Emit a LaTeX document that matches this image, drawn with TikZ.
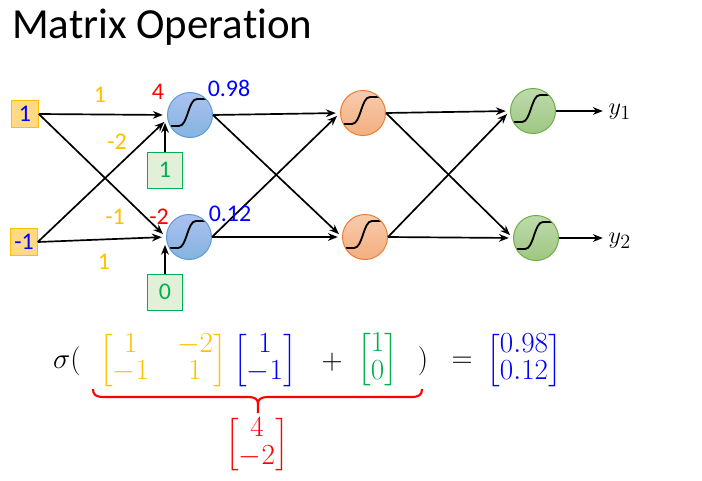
\documentclass[tikz,border=0pt]{standalone}
\usepackage{amsmath}
\usepackage{fontspec}
\setmainfont{Carlito}[Ligatures=NoCommon]
\usetikzlibrary{arrows.meta,positioning}
\renewcommand{\arraystretch}{0.86}

\definecolor{wtorange}{HTML}{FFC000}
\definecolor{inblue}{HTML}{0000FF}
\definecolor{sumred}{HTML}{FF0000}
\definecolor{biasgreen}{HTML}{00B050}
\definecolor{biasfill}{HTML}{E2F0D9}
\definecolor{infill}{HTML}{FFD983}
\definecolor{hidedge}{HTML}{5B9BD5}
\definecolor{midedge}{HTML}{ED7D31}
\definecolor{outedge}{HTML}{70AD47}

\tikzset{
  neuron/.style={circle,minimum size=1.125cm,inner sep=0pt,line width=0.7pt,
    path picture={
      \coordinate (pc) at (path picture bounding box.center);
      \draw[black,line width=1.3pt] ([shift={(-20,11)}]pc) -- ([shift={(-11,11)}]pc)
        .. controls ([shift={(-2,11)}]pc) and ([shift={(-2,-16)}]pc) .. ([shift={(7,-16)}]pc)
        -- ([shift={(18,-16)}]pc);
    }},
  hidden/.style={neuron,draw=hidedge,top color=blue!25!hidedge!45,bottom color=hidedge!75},
  middle/.style={neuron,draw=midedge,top color=midedge!40,bottom color=midedge!62},
  output/.style={neuron,draw=outedge,top color=outedge!45,bottom color=outedge!68},
  inbox/.style={draw=wtorange,fill=infill,minimum size=0.675cm,inner sep=0pt,
    text=inblue,font=\fontsize{17}{20}\selectfont},
  biasbox/.style={draw=biasgreen,fill=biasfill,minimum width=0.875cm,minimum height=0.9cm,
    inner sep=0pt,text=biasgreen,font=\fontsize{17}{20}\selectfont},
  wire/.style={line width=1.2pt,-{Stealth[length=7pt,width=5.5pt]},shorten >=3pt},
  lbl/.style={font=\fontsize{17}{20}\selectfont,inner sep=0pt},
  eqn/.style={font=\fontsize{21}{23}\selectfont,inner sep=0pt},
}

\begin{document}
\begin{tikzpicture}[x=0.025cm,y=-0.025cm]
\useasboundingbox (0,0) rectangle (702,480);

\node[anchor=base west,inner sep=0pt,font=\fontsize{30.5}{36}\selectfont] (title) at (12,38) {Matrix Operation};

% network
\node[inbox] (in1) at (25,114) {1};
\node[inbox] (in2) at (24,242) {-1};
\node[hidden] (h1) at (190,115) {};
\node[hidden] (h2) at (189,237) {};
\node[biasbox] (b1) at (165,170) {1};
\node[biasbox] (b2) at (165,292) {0};
\node[middle] (m1) at (363,113) {};
\node[middle] (m2) at (365,237) {};
\node[output] (o1) at (533,111) {};
\node[output] (o2) at (536,238) {};
\node[anchor=west,inner sep=1pt,font=\fontsize{19}{22}\selectfont] (y1) at (607,112) {$y_1$};
\node[anchor=west,inner sep=1pt,font=\fontsize{19}{22}\selectfont] (y2) at (607,241) {$y_2$};

\draw[wire] (in1.east) -- (h1.west);
\draw[wire] (in1.east) -- (h2.west);
\draw[wire] (in2.east) -- (h1.190);
\draw[wire] (in2.east) -- (h2.west);
\draw[wire,shorten >=0pt] (b1) -- (b1.north |- h1.200);
\draw[wire,shorten >=0pt] (b2) -- (b2.north |- h2.200);

\draw[wire] (h1.east) -- (m1.west);
\draw[wire] (h1.east) -- (m2.west);
\draw[wire] (h2.east) -- (m1.west);
\draw[wire] (h2.east) -- (m2.west);
\draw[wire] (m1.east) -- (o1.west);
\draw[wire] (m1.east) -- (o2.west);
\draw[wire] (m2.east) -- (o1.west);
\draw[wire] (m2.east) -- (o2.west);
\draw[wire] (o1.east) -- (o1.east -| y1.west);
\draw[wire] (o2.east) -- (o2.east -| y2.west);

\node[lbl,text=wtorange] (wa) at (100,95) {1};
\node[lbl,text=wtorange] (wb) at (117,142) {-2};
\node[lbl,text=wtorange] (wc) at (115,217) {-1};
\node[lbl,text=wtorange] (wd) at (104,262) {1};
\node[lbl,text=sumred] (z1) at (158,92) {4};
\node[lbl,text=sumred] (z2) at (159,217) {-2};
\node[lbl,text=inblue] (a1) at (229,88) {0.98};
\node[lbl,text=inblue] (a2) at (230,214) {0.12};

% equation
\node[eqn] (sig) at (67,361) {$\sigma($};
\node[eqn,text=wtorange] (wmat) at (163,360.5)
  {\setlength{\arraycolsep}{10pt}$\begin{bmatrix}1 & -2\\ -1 & 1\end{bmatrix}$};
\node[eqn,text=inblue] (xmat) at (265,360.5) {$\begin{bmatrix}1\\ -1\end{bmatrix}$};
\node[eqn] (plus) at (332,362) {$+$};
\node[eqn,text=biasgreen] (bmat) at (377.5,360) {$\begin{bmatrix}1\\ 0\end{bmatrix}$};
\node[eqn] (rpar) at (423,361) {$)$};
\node[eqn] (eq) at (462,362) {$=$};
\node[eqn,text=inblue] (ymat) at (524,360.5) {$\begin{bmatrix}0.98\\ 0.12\end{bmatrix}$};
\node[eqn,text=sumred] (zmat) at (257,445) {$\begin{bmatrix}4\\ -2\end{bmatrix}$};

\draw[sumred,line width=1.5pt] (93,389) .. controls (93,395) and (96,397) .. (104,397) -- (248,397)
  .. controls (255,397) and (258,399) .. (258,404) -- (258,413);
\draw[sumred,line width=1.5pt] (422,389) .. controls (422,395) and (419,397) .. (411,397) -- (268,397)
  .. controls (261,397) and (258,399) .. (258,404);
\end{tikzpicture}
\end{document}
